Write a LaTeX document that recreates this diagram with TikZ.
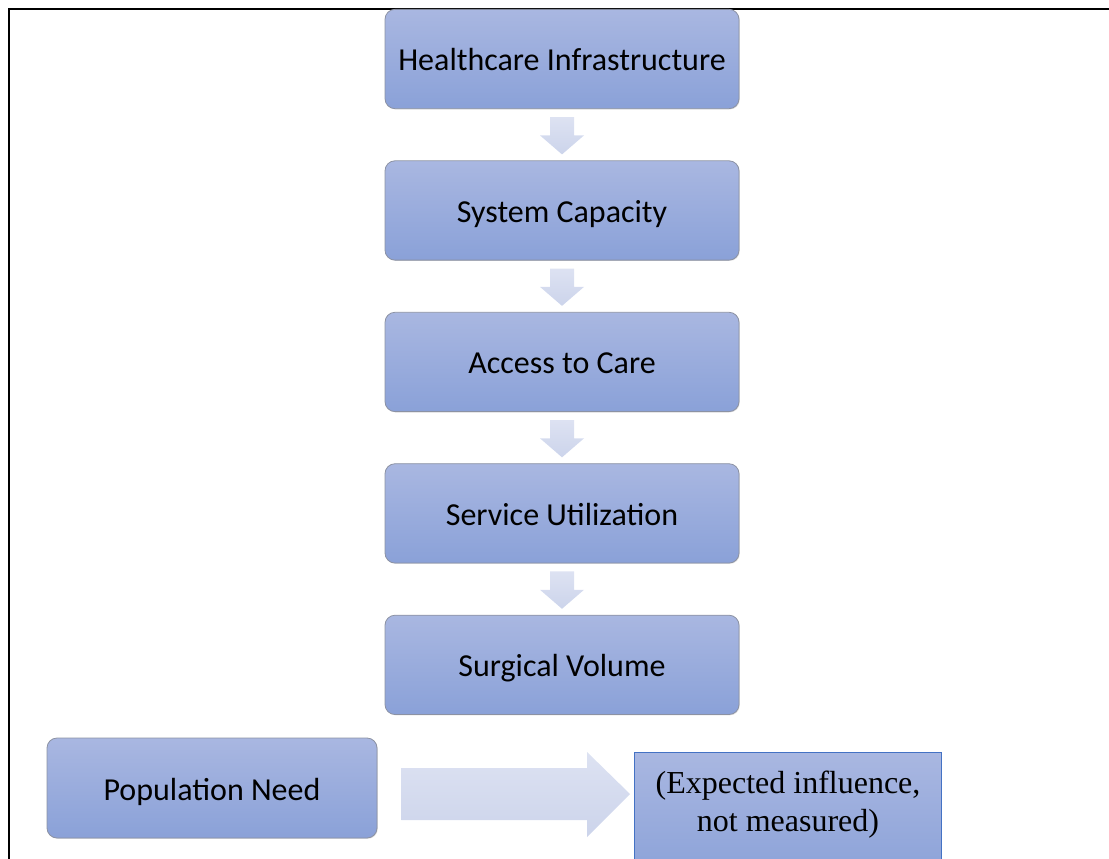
\documentclass[tikz,border=0pt]{standalone}
\usepackage{fontspec}
\setmainfont{Carlito}
\newfontfamily\timesfont{Liberation Serif}
\usepackage{tikz}
\usetikzlibrary{positioning,calc,shadows}

\definecolor{boxtop}{HTML}{A9B7E1}
\definecolor{boxbot}{HTML}{8AA1D8}
\definecolor{boxline}{HTML}{8C92A3}
\definecolor{flowtop}{HTML}{DDE2F2}
\definecolor{flowbot}{HTML}{CCD4EB}
\definecolor{edgeblue}{HTML}{4472C4}

\tikzset{
  stage/.style={rectangle, rounded corners=7.5pt, draw=boxline, line width=0.6pt,
    top color=boxtop, bottom color=boxbot,
    drop shadow={shadow xshift=0.6pt, shadow yshift=-0.6pt, opacity=0.25},
    minimum width=265.5pt, minimum height=74.5pt,
    text height=20pt, text depth=2pt,
    font=\fontsize{24}{28}\selectfont},
  flow/.style={top color=flowtop, bottom color=flowbot}
}

\begin{document}
\begin{tikzpicture}[x=0.75pt,y=-0.75pt]
\useasboundingbox (0,0) rectangle (1109,859);
\clip (0,0) rectangle (1109,859);

% outer frame, only left and top edge inside the page
\draw[line width=1.5pt] (8.5,880) -- (8.5,9) -- (1130,9);

% the chain of stages
\node (infra) [stage] at (562,59) {Healthcare Infrastructure};
\node (capacity) [stage, below=38.5pt of infra] {System Capacity};
\node (access) [stage, below=38.5pt of capacity] {Access to Care};
\node (utilization) [stage, below=38.5pt of access] {Service Utilization};
\node (volume) [stage, below=38.5pt of utilization] {Surgical Volume};

\foreach \a/\b in {infra/capacity, capacity/access, access/utilization, utilization/volume}
  \path[flow] ($(\a.south)+(-12,8)$) -- ($(\a.south)+(12,8)$)
    -- ($(\b.north)+(12,-25)$) -- ($(\b.north)+(22,-25)$)
    -- ($(\b.north)+(0,-6)$)
    -- ($(\b.north)+(-22,-25)$) -- ($(\b.north)+(-12,-25)$) -- cycle;

% population need and its expected influence
\node (need) [stage, minimum width=247.5pt, minimum height=75pt] at (212,788) {Population Need};
\node (expect) [rectangle, draw=edgeblue, line width=0.75pt, top color=boxtop, bottom color=boxbot,
  minimum width=230.25pt, minimum height=97.5pt, anchor=north west] at (634,752) {};
\node (expecttext) [align=center, font=\timesfont\fontsize{24}{28.5}\selectfont]
  at ($(expect.north)+(0,53)$) {(Expected influence,\\not measured)};

\coordinate (flowstart) at ($(need.east)+(24,6)$);
\coordinate (flowtip) at ($(expect.west |- flowstart)+(-4,0)$);
\path[flow] ($(flowstart)+(0,-26)$) -- ($(flowtip)+(-43,-26)$) -- ($(flowtip)+(-43,-42)$)
  -- (flowtip) -- ($(flowtip)+(-43,43)$) -- ($(flowtip)+(-43,26)$) -- ($(flowstart)+(0,26)$) -- cycle;

\end{tikzpicture}
\end{document}
